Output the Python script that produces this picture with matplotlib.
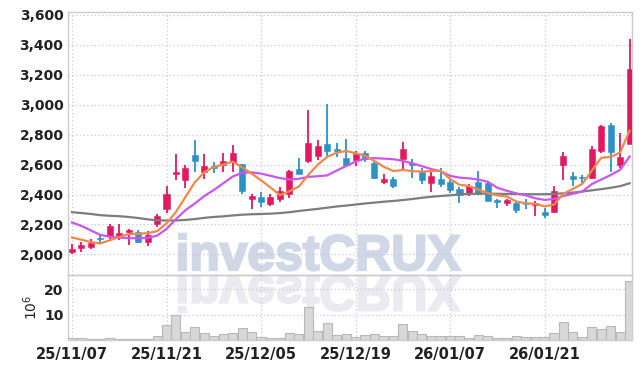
import matplotlib
matplotlib.use("Agg")
import matplotlib.pyplot as plt
from matplotlib.textpath import TextPath
from matplotlib.patches import PathPatch
from matplotlib.font_manager import FontProperties
from matplotlib.transforms import Affine2D, IdentityTransform

# daily candles, 25/11/07 .. 26/02/03
opens = [2017, 2040, 2051, 2108, 2122, 2117, 2147, 2150, 2080, 2200,
         2302, 2540, 2500, 2665, 2548, 2593, 2594, 2618, 2602, 2370,
         2382, 2338, 2367, 2405, 2571, 2627, 2655, 2738, 2706, 2643,
         2628, 2677, 2611, 2487, 2503, 2636, 2613, 2551, 2480, 2502,
         2483, 2437, 2406, 2484, 2476, 2363, 2346, 2346, 2343, 2330,
         2285, 2280, 2594, 2524, 2520, 2513, 2688, 2865, 2600, 2740]
highs = [2070, 2083, 2100, 2135, 2204, 2200, 2172, 2160, 2158, 2272,
         2460, 2669, 2600, 2763, 2670, 2617, 2676, 2730, 2605, 2404,
         2420, 2404, 2447, 2565, 2645, 2963, 2765, 3002, 2745, 2770,
         2693, 2691, 2618, 2536, 2516, 2748, 2636, 2580, 2549, 2576,
         2496, 2450, 2468, 2558, 2486, 2370, 2373, 2353, 2369, 2357,
         2309, 2460, 2686, 2553, 2529, 2727, 2866, 2879, 2814, 3442]
lows = [2004, 2015, 2037, 2076, 2104, 2093, 2062, 2075, 2055, 2182,
        2278, 2496, 2443, 2550, 2505, 2543, 2548, 2553, 2403, 2305,
        2315, 2322, 2353, 2380, 2538, 2610, 2628, 2656, 2648, 2590,
        2588, 2620, 2505, 2473, 2442, 2572, 2510, 2472, 2420, 2453,
        2410, 2345, 2392, 2398, 2358, 2308, 2320, 2276, 2306, 2257,
        2244, 2276, 2495, 2458, 2480, 2502, 2680, 2553, 2578, 2735]
closes = [2037, 2064, 2074, 2104, 2192, 2145, 2163, 2080, 2130, 2258,
          2403, 2548, 2577, 2625, 2592, 2578, 2627, 2680, 2426, 2388,
          2353, 2386, 2426, 2558, 2540, 2746, 2724, 2693, 2694, 2600,
          2671, 2640, 2513, 2503, 2460, 2705, 2597, 2498, 2525, 2472,
          2430, 2398, 2460, 2403, 2360, 2347, 2364, 2297, 2338, 2343,
          2262, 2425, 2657, 2501, 2508, 2705, 2858, 2682, 2651, 3240]

ma_short = [2113, 2098, 2082, 2073, 2094, 2116, 2136, 2137, 2142, 2155,
            2207, 2284, 2383, 2482, 2549, 2584, 2600, 2620, 2581, 2540,
            2495, 2447, 2396, 2422, 2453, 2531, 2599, 2652, 2679, 2691,
            2676, 2660, 2624, 2585, 2557, 2564, 2556, 2553, 2557, 2559,
            2504, 2465, 2457, 2433, 2410, 2394, 2387, 2354, 2341, 2338,
            2321, 2333, 2405, 2438, 2471, 2559, 2646, 2651, 2681, 2827]
ma_mid = [2213, 2190, 2160, 2130, 2118, 2112, 2108, 2108, 2110, 2125,
          2170, 2235, 2295, 2340, 2390, 2430, 2475, 2520, 2545, 2548,
          2540, 2525, 2510, 2500, 2505, 2518, 2522, 2528, 2560, 2590,
          2620, 2640, 2643, 2640, 2636, 2625, 2608, 2590, 2570, 2555,
          2525, 2513, 2508, 2500, 2485, 2445, 2425, 2408, 2395, 2375,
          2364, 2370, 2390, 2405, 2420, 2470, 2500, 2530, 2565, 2654]
ma_long = [2282, 2276, 2270, 2262, 2258, 2255, 2250, 2243, 2234, 2228,
           2226, 2227, 2230, 2236, 2244, 2250, 2254, 2260, 2265, 2268,
           2270, 2272, 2276, 2282, 2290, 2297, 2304, 2312, 2320, 2326,
           2333, 2340, 2346, 2352, 2357, 2363, 2370, 2378, 2385, 2390,
           2395, 2400, 2404, 2406, 2406, 2405, 2404, 2403, 2402, 2402,
           2402, 2404, 2408, 2413, 2420, 2428, 2436, 2445, 2456, 2475]

# volume in millions
volume = [0.6, 0.6, 0.2, 0.3, 0.6, 0.3, 0.3, 0.3, 0.3, 1.6,
          5.9, 9.8, 3.0, 5.0, 2.6, 1.4, 2.4, 2.9, 4.6, 3.0,
          1.2, 0.7, 0.7, 2.6, 2.4, 12.9, 3.4, 6.6, 2.0, 2.4,
          1.3, 2.0, 2.4, 1.6, 1.6, 6.3, 3.7, 2.2, 1.6, 1.6,
          1.6, 1.6, 0.7, 2.0, 1.6, 0.7, 0.7, 1.6, 1.0, 1.0,
          1.0, 2.6, 7.0, 3.0, 1.0, 5.3, 4.2, 5.5, 3.0, 23.3]

date_labels = ["25/11/07", "25/11/21", "25/12/05", "25/12/19", "26/01/07", "26/01/21"]
date_pos = [0, 10, 20, 30, 40, 50]
price_ticks = [2000, 2200, 2400, 2600, 2800, 3000, 3200, 3400, 3600]
vol_ticks = [10, 20]

UP = "#e2195f"
DOWN = "#2e91c6"
GRID = "#c5c9d8"

plt.rcParams['font.family'] = ['Liberation Sans Narrow', 'DejaVu Sans']

fig = plt.figure(figsize=(6.42, 3.69), dpi=100)
fig.patch.set_facecolor("white")
ax = fig.add_axes([0.1064, 0.2539, 0.878, 0.7128])
axv = fig.add_axes([0.1064, 0.0786, 0.878, 0.1753], sharex=ax)
for a in (ax, axv):
    a.set_facecolor("none")
    a.set_zorder(2)
    for s in a.spines.values():
        s.set_color("#cccccc")
        s.set_linewidth(1.0)
    a.grid(True, color=GRID, linestyle=(0, (1, 2)), linewidth=0.9)
    a.tick_params(length=0, labelsize=10, colors="#222222")

# watermark with reflection, in pixel coordinates
fp = FontProperties(family="Liberation Sans", weight="bold")
tp = TextPath((0, 0), "investCRUX", size=100, prop=fp)
bb = tp.get_extents()
sx = 281 / bb.width
sy = 36 / 72.0
H = 369
main_tr = Affine2D().translate(-bb.x0, 0).scale(sx, sy).translate(179, H - 270)
refl_tr = Affine2D().translate(-bb.x0, 0).scale(sx, -sy).translate(179, H - 276)
fig.add_artist(PathPatch(tp, transform=main_tr + IdentityTransform(),
                         facecolor="#d0d7e7", edgecolor="#d0d7e7", linewidth=1.6, zorder=1))
fig.add_artist(PathPatch(tp, transform=refl_tr + IdentityTransform(),
                         facecolor="#eaeaf0", edgecolor="#eaeaf0", linewidth=1.6, zorder=1))

# candles
w = 0.64
for i in range(len(opens)):
    o, h, l, c = opens[i], highs[i], lows[i], closes[i]
    col = UP if c >= o else DOWN
    ax.vlines(i, l, h, color=col, linewidth=1.3, zorder=3)
    lo = min(o, c)
    ht = max(abs(c - o), 7)
    ax.bar(i, ht, bottom=lo if abs(c - o) >= 7 else (o + c) / 2 - 3.5,
           width=w, color=col, edgecolor=col, linewidth=0.4, zorder=4)

x = list(range(len(closes)))
ax.plot(x, ma_long, color="#7d7d7d", linewidth=1.6, zorder=5)
ax.plot(x, ma_mid, color="#cc55ec", linewidth=1.6, zorder=5)
ax.plot(x, ma_short, color="#f0884c", linewidth=1.6, zorder=5)

ax.set_ylim(1860, 3618)
ax.set_yticks(price_ticks)
ax.set_yticklabels([f"{p:,}" for p in price_ticks], fontweight="bold")
ax.set_xlim(-0.39, 59.25)
ax.set_xticks(date_pos)
plt.setp(ax.get_xticklabels(), visible=False)

axv.bar(x, volume, width=0.96, color="#d8d8d8", edgecolor="#b8b8b8", linewidth=0.8, zorder=3)
axv.set_ylim(0, 25.6)
axv.set_yticks(vol_ticks)
axv.set_yticklabels([str(v) for v in vol_ticks], fontweight="bold")
axv.set_xticks(date_pos)
axv.set_xticklabels(date_labels, fontweight="bold", fontsize=10.5)
axv.tick_params(axis="x", pad=5)
axv.set_ylabel("$10^6$", fontsize=10, color="#222222", labelpad=3)

fig.savefig("out.png", dpi=100)
